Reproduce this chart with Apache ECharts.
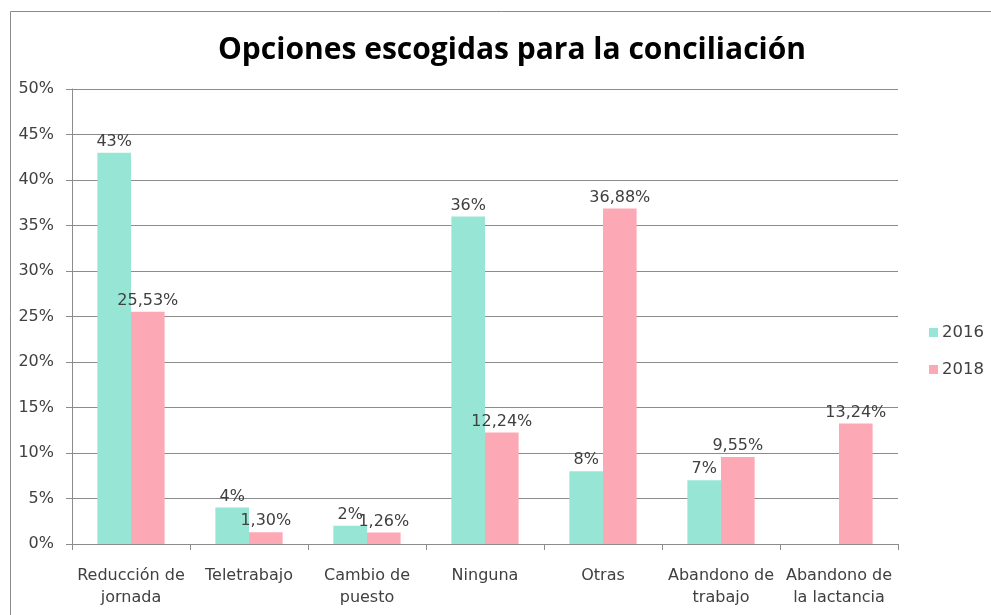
<!DOCTYPE html>
<html>
<head>
<meta charset="utf-8">
<script src="https://cdn.jsdelivr.net/npm/echarts@6/dist/echarts.min.js"></script>
<style>html,body{margin:0;padding:0;background:#fff}#c{width:991px;height:615px}</style>
</head>
<body>
<div id="c"></div>
<script>
const categories = ['Reducción de\njornada', 'Teletrabajo', 'Cambio de\npuesto', 'Ninguna', 'Otras', 'Abandono de\ntrabajo', 'Abandono de\nla lactancia'];
const seriesNames = ['2016', '2018'];
const values2016 = [43, 4, 2, 36, 8, 7, null];
const values2018 = [25.53, 1.30, 1.26, 12.24, 36.88, 9.55, 13.24];
const yTicks = [0, 5, 10, 15, 20, 25, 30, 35, 40, 45, 50];
const titleText = 'Opciones escogidas para la conciliación';

const chart = echarts.init(document.getElementById('c'));
const labelFont = '"DejaVu Sans", sans-serif';
const textColor = '#404040';
function fmt2016(p) { return p.value == null ? '' : p.value + '%'; }
function fmt2018(p) { return p.value == null ? '' : p.value.toFixed(2).replace('.', ',') + '%'; }

chart.setOption({
  animation: false,
  backgroundColor: '#fff',
  graphic: [{
    type: 'rect',
    shape: { x: 10.5, y: 11.5, width: 1000, height: 700 },
    style: { fill: 'none', stroke: '#8a8a8a', lineWidth: 1 },
    silent: true
  }],
  title: {
    text: titleText,
    left: 507, top: 30, textAlign: 'center',
    textStyle: { fontFamily: '"Open Sans", sans-serif', fontWeight: 'bold', fontSize: 30, color: '#000' }
  },
  legend: {
    orient: 'vertical',
    left: 924, top: 319,
    itemWidth: 9, itemHeight: 9, itemGap: 20,
    icon: 'rect',
    textStyle: { fontFamily: labelFont, fontSize: 16.5, color: textColor, padding: [0, 0, 0, -1] },
    data: seriesNames
  },
  grid: { left: 72, right: 93, top: 89, bottom: 71, containLabel: false },
  xAxis: {
    type: 'category',
    data: categories,
    axisLine: { lineStyle: { color: '#8c8c8c', width: 1 } },
    axisTick: { show: true, length: 6, lineStyle: { color: '#8c8c8c' } },
    axisLabel: { fontFamily: labelFont, fontSize: 16, color: textColor, margin: 21, lineHeight: 22, interval: 0 }
  },
  yAxis: {
    type: 'value',
    min: 0, max: 50, interval: 5,
    axisLine: { show: true, lineStyle: { color: '#8c8c8c', width: 1 } },
    axisTick: { show: true, length: 6, lineStyle: { color: '#8c8c8c' } },
    splitLine: { lineStyle: { color: '#8c8c8c', width: 1 } },
    axisLabel: { fontFamily: labelFont, fontSize: 16, color: textColor, margin: 18,
      formatter: v => (yTicks.indexOf(v) >= 0 ? v + '%' : '') }
  },
  series: [
    {
      name: seriesNames[0], type: 'bar', data: values2016,
      barGap: '0%', barCategoryGap: '43%',
      itemStyle: { color: '#97E6D5' },
      label: { show: true, position: 'top', distance: 3, formatter: fmt2016,
        fontFamily: labelFont, fontSize: 16, color: textColor }
    },
    {
      name: seriesNames[1], type: 'bar', data: values2018,
      barGap: '0%', barCategoryGap: '43%',
      itemStyle: { color: '#FDA9B5' },
      label: { show: true, position: 'top', distance: 3, formatter: fmt2018,
        fontFamily: labelFont, fontSize: 16, color: textColor }
    }
  ]
});
</script>
</body>
</html>
